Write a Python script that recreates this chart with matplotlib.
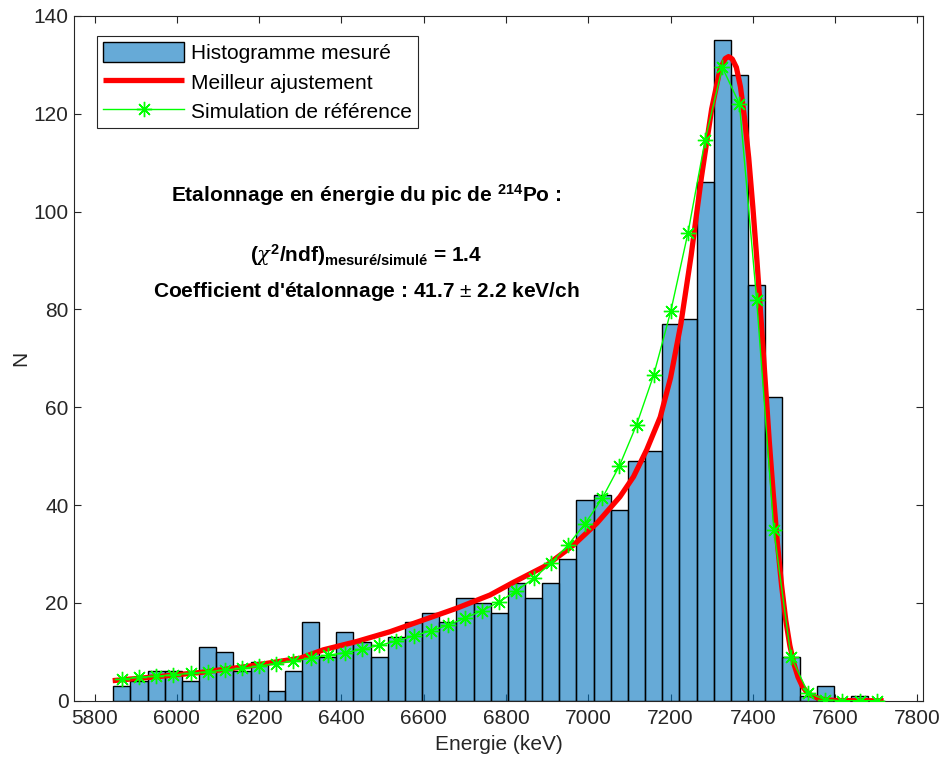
import numpy as np
import matplotlib
matplotlib.use("Agg")
import matplotlib.pyplot as plt

plt.rcParams['font.family'] = ['Liberation Sans', 'DejaVu Sans']
plt.rcParams['mathtext.fontset'] = 'custom'
plt.rcParams['mathtext.rm'] = 'Liberation Sans'
plt.rcParams['mathtext.bf'] = 'Liberation Sans:bold'
plt.rcParams['mathtext.it'] = 'DejaVu Serif:italic'

# ---- data
first_edge = 5845.5   # keV
bin_width = 41.7      # keV / ch
counts = [3, 4, 6, 6, 4, 11, 10, 6, 8, 2,
          6, 16, 9, 14, 12, 9, 13, 16, 18, 16,
          21, 20, 18, 24, 21, 24, 29, 41, 42, 39,
          49, 51, 77, 78, 106, 135, 128, 85, 62, 9,
          1, 3, 0, 1, 0]
simu = [4.4, 4.8, 5.0, 5.3, 5.6, 5.9, 6.3, 6.6, 7.1, 7.6,
        8.1, 8.7, 9.3, 9.8, 10.5, 11.3, 12.2, 13.2, 14.3, 15.4,
        16.9, 18.4, 20.2, 22.5, 25.0, 28.1, 31.8, 36.2, 41.4, 48.0,
        56.4, 66.6, 79.7, 95.7, 114.7, 129.5, 122.0, 82.0, 35.0, 9.0,
        1.6, 0.2, 0.0, 0.0, 0.0]
fit_e = [5844, 5950, 6060, 6170, 6300, 6356, 6437, 6518, 6599, 6680,
         6761, 6818, 6899, 6964, 7021, 7077, 7110, 7142, 7175, 7200,
         7225, 7250, 7275, 7300, 7320, 7333, 7341, 7350, 7360, 7370,
         7380, 7390, 7400, 7410, 7420, 7430, 7440, 7450, 7460, 7470,
         7480, 7490, 7500, 7510, 7520, 7530, 7540, 7560, 7580, 7600,
         7650, 7718]
fit_n = [4.1, 4.9, 5.8, 7.0, 8.7, 10.4, 12.1, 14.1, 16.5, 18.9,
         21.6, 24.2, 27.7, 31.8, 36.3, 41.7, 45.8, 51.3, 58.0, 66.0,
         77.0, 91.0, 107.0, 121.0, 129.0, 131.3, 131.7, 131.2, 129.5, 125.5,
         119.0, 111.0, 101.0, 90.0, 78.0, 65.5, 53.0, 42.0, 32.0, 23.5,
         16.5, 11.3, 7.5, 4.8, 3.0, 1.9, 1.2, 0.45, 0.15, 0.05,
         0.0, 0.0]

edges = first_edge + bin_width * np.arange(len(counts))
centers = edges + bin_width / 2

fig = plt.figure(figsize=(9.43, 7.58), dpi=100)
ax = fig.add_axes([0.0785, 0.0756, 0.900, 0.9033])

gray = (0.15, 0.15, 0.15)
fs = 15
h_bar = ax.bar(edges, counts, width=bin_width, align='edge',
               facecolor=(0.0, 0.447, 0.741, 0.6), edgecolor='black',
               linewidth=1.0, label='Histogramme mesuré', zorder=1)
h_fit, = ax.plot(fit_e, fit_n, color='red', lw=3.8, label='Meilleur ajustement', zorder=3,
                 solid_joinstyle='round', solid_capstyle='butt')
h_sim, = ax.plot(centers, simu, color='#00ff00', lw=1.0, marker=(8, 2, 0), ms=11, mew=1.0,
                 label='Simulation de référence', zorder=4)

ax.set_xlim(5750, 7813)
ax.set_ylim(0, 140)
ax.set_xticks(np.arange(5800, 7801, 200))
ax.set_yticks(np.arange(0, 141, 20))
ax.set_axisbelow(True)
ax.tick_params(direction='in', length=5, width=0.8, colors=gray, labelsize=fs,
               top=True, right=True)
ax.tick_params(axis='x', pad=6)
ax.tick_params(axis='y', pad=4)
for s in ax.spines.values():
    s.set_color(gray)
    s.set_linewidth(0.8)

ax.set_xlabel('Energie (keV)', fontsize=fs, color=gray, labelpad=5)
ax.set_ylabel('N', fontsize=fs, color=gray, labelpad=2)

leg = ax.legend(handles=[h_bar, h_fit, h_sim], loc='upper left',
                bbox_to_anchor=(0.027, 0.971), borderaxespad=0, fontsize=fs,
                handlelength=3.9, handleheight=1.1, fancybox=False, framealpha=1,
                edgecolor=gray, borderpad=0.3, labelspacing=0.4, handletextpad=0.3)
leg.get_frame().set_linewidth(0.8)

ax.text(6460, 103.4, r'Etalonnage en énergie du pic de $^{\mathbf{214}}$Po :',
        ha='center', va='center', fontsize=fs, fontweight='bold')
ax.text(6460, 91.1, r'($\chi^{\mathbf{2}}$/ndf)$_{\mathbf{mesuré/simulé}}$ = 1.4',
        ha='center', va='center', fontsize=fs, fontweight='bold')
ax.text(6460, 83.6, r"Coefficient d'étalonnage : 41.7 $\pm$ 2.2 keV/ch",
        ha='center', va='center', fontsize=fs, fontweight='bold')

fig.savefig('out.png', dpi=100)
